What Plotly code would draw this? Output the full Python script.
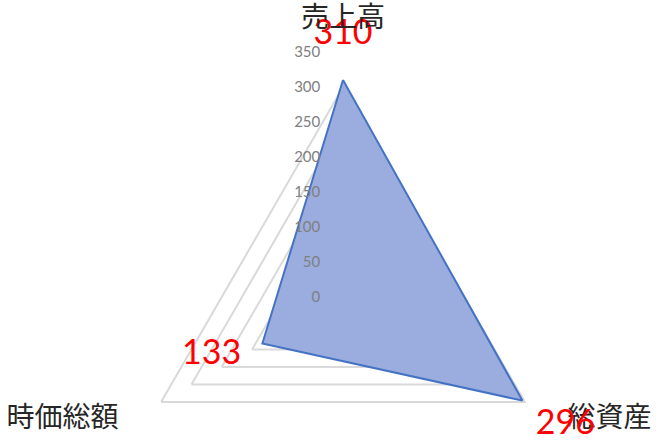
import plotly.graph_objects as go

categories = ["売上高", "総資産", "時価総額"]
values = [310, 296, 133]
radial_ticks = [0, 50, 100, 150, 200, 250, 300, 350]
r_max = 350

# styling: radial offsets / anchors of the red data labels
label_offsets = [39, 22, 35]
label_pos = ["top center", "bottom right", "middle left"]
label_r = [v + d for v, d in zip(values, label_offsets)]

# styling: side category labels drawn next to the outer vertices
side_cats = categories[1:]
side_pos = ["middle right", "middle left"]

W, H = 666, 542   # window is 666x447; the empty lower part of the polar circle falls below it

fig = go.Figure()
fig.add_trace(go.Scatterpolar(
    r=values + values[:1],
    theta=categories + categories[:1],
    mode="lines",
    fill="toself",
    fillcolor="#9badde",
    line=dict(color="#4472C4", width=2),
    hoverinfo="skip",
    showlegend=False,
))
fig.add_trace(go.Scatterpolar(
    r=[r_max - 0.01] * len(side_cats),
    theta=side_cats,
    mode="markers+text",
    marker=dict(size=18, color="rgba(0,0,0,0)"),
    text=side_cats,
    textposition=side_pos,
    textfont=dict(size=28, family="Noto Sans CJK JP", color="#262626"),
    showlegend=False,
    hoverinfo="skip",
))
fig.add_trace(go.Scatterpolar(
    r=label_r,
    theta=categories,
    mode="text",
    text=[str(v) for v in values],
    textposition=label_pos,
    textfont=dict(color="#FF0000", size=34, family="Lato"),
    showlegend=False,
    hoverinfo="skip",
))

fig.update_layout(
    width=W, height=H,
    margin=dict(l=0, r=0, t=0, b=0),
    paper_bgcolor="white",
    polar=dict(
        domain=dict(x=[98 / W, 588 / W], y=[0, 490 / H]),
        gridshape="linear",
        bgcolor="white",
        angularaxis=dict(
            direction="clockwise",
            rotation=90,
            categoryorder="array",
            categoryarray=categories,
            tickvals=categories,
            ticktext=[categories[0]] + [""] * len(side_cats),
            showgrid=False,
            showline=False,
            ticks="outside",
            ticklen=13,
            tickcolor="rgba(0,0,0,0)",
            tickfont=dict(size=28, family="Noto Sans CJK JP", color="#262626"),
        ),
        radialaxis=dict(
            range=[0, r_max],
            tickvals=radial_ticks,
            angle=90,
            side="counterclockwise",
            showline=False,
            ticks="outside",
            ticklen=17,
            tickcolor="rgba(0,0,0,0)",
            gridcolor="#D9D9D9",
            gridwidth=1.5,
            tickfont=dict(size=15, family="Lato", color="#808080"),
            tickangle=90,
        ),
    ),
)

fig.write_html(
    "out.html",
    config={"displayModeBar": False},
    post_script="document.documentElement.style.overflow='hidden';document.body.style.overflow='hidden';document.body.style.margin='0';",
)
